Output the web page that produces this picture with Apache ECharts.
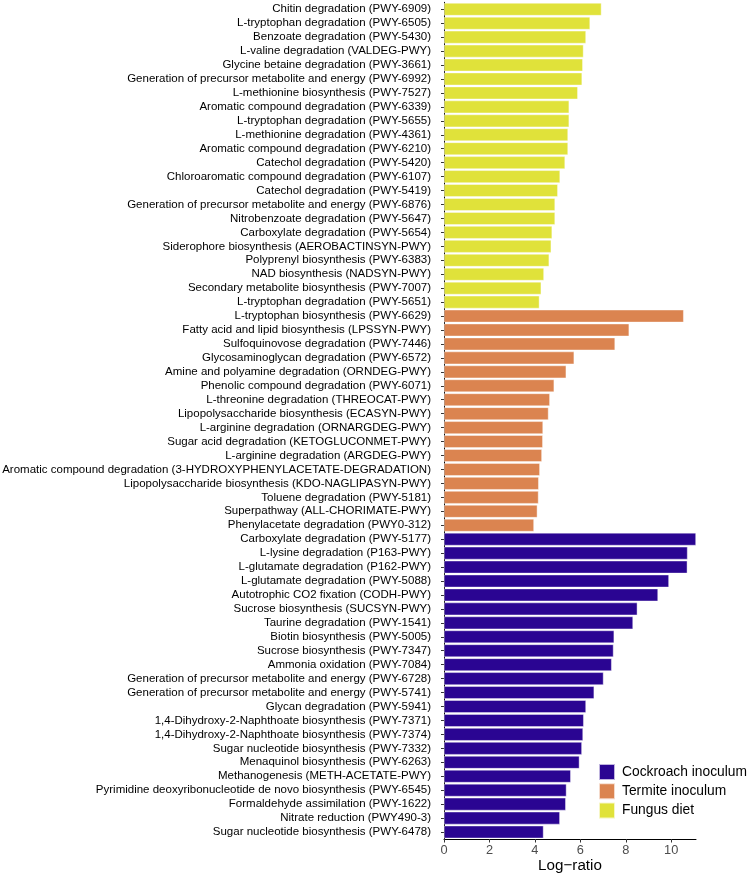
<!DOCTYPE html>
<html>
<head>
<meta charset="utf-8">
<script src="https://cdn.jsdelivr.net/npm/echarts@6/dist/echarts.min.js"></script>
<style>html,body{margin:0;padding:0;background:#fff;}#chart{width:750px;height:876px;}</style>
</head>
<body>
<div id="chart"></div>
<script>
const fungusLabels = [
  "Chitin degradation (PWY-6909)",
  "L-tryptophan degradation (PWY-6505)",
  "Benzoate degradation (PWY-5430)",
  "L-valine degradation (VALDEG-PWY)",
  "Glycine betaine degradation (PWY-3661)",
  "Generation of precursor metabolite and energy (PWY-6992)",
  "L-methionine biosynthesis (PWY-7527)",
  "Aromatic compound degradation (PWY-6339)",
  "L-tryptophan degradation (PWY-5655)",
  "L-methionine degradation (PWY-4361)",
  "Aromatic compound degradation (PWY-6210)",
  "Catechol degradation (PWY-5420)",
  "Chloroaromatic compound degradation (PWY-6107)",
  "Catechol degradation (PWY-5419)",
  "Generation of precursor metabolite and energy (PWY-6876)",
  "Nitrobenzoate degradation (PWY-5647)",
  "Carboxylate degradation (PWY-5654)",
  "Siderophore biosynthesis (AEROBACTINSYN-PWY)",
  "Polyprenyl biosynthesis (PWY-6383)",
  "NAD biosynthesis (NADSYN-PWY)",
  "Secondary metabolite biosynthesis (PWY-7007)",
  "L-tryptophan degradation (PWY-5651)"
];
const fungusValues = [6.93, 6.43, 6.25, 6.14, 6.11, 6.08, 5.89, 5.51, 5.51, 5.46, 5.46, 5.33,
  5.11, 5.01, 4.89, 4.89, 4.76, 4.72, 4.63, 4.40, 4.28, 4.20];

const termiteLabels = [
  "L-tryptophan biosynthesis (PWY-6629)",
  "Fatty acid and lipid biosynthesis (LPSSYN-PWY)",
  "Sulfoquinovose degradation (PWY-7446)",
  "Glycosaminoglycan degradation (PWY-6572)",
  "Amine and polyamine degradation (ORNDEG-PWY)",
  "Phenolic compound degradation (PWY-6071)",
  "L-threonine degradation (THREOCAT-PWY)",
  "Lipopolysaccharide biosynthesis (ECASYN-PWY)",
  "L-arginine degradation (ORNARGDEG-PWY)",
  "Sugar acid degradation (KETOGLUCONMET-PWY)",
  "L-arginine degradation (ARGDEG-PWY)",
  "Aromatic compound degradation (3-HYDROXYPHENYLACETATE-DEGRADATION)",
  "Lipopolysaccharide biosynthesis (KDO-NAGLIPASYN-PWY)",
  "Toluene degradation (PWY-5181)",
  "Superpathway (ALL-CHORIMATE-PWY)",
  "Phenylacetate degradation (PWY0-312)"
];
const termiteValues = [10.55, 8.15, 7.53, 5.73, 5.38, 4.85, 4.66, 4.60, 4.36, 4.35, 4.31,
  4.22, 4.17, 4.16, 4.11, 3.96];

const cockroachLabels = [
  "Carboxylate degradation (PWY-5177)",
  "L-lysine degradation (P163-PWY)",
  "L-glutamate degradation (P162-PWY)",
  "L-glutamate degradation (PWY-5088)",
  "Autotrophic CO2 fixation (CODH-PWY)",
  "Sucrose biosynthesis (SUCSYN-PWY)",
  "Taurine degradation (PWY-1541)",
  "Biotin biosynthesis (PWY-5005)",
  "Sucrose biosynthesis (PWY-7347)",
  "Ammonia oxidation (PWY-7084)",
  "Generation of precursor metabolite and energy (PWY-6728)",
  "Generation of precursor metabolite and energy (PWY-5741)",
  "Glycan degradation (PWY-5941)",
  "1,4-Dihydroxy-2-Naphthoate biosynthesis (PWY-7371)",
  "1,4-Dihydroxy-2-Naphthoate biosynthesis (PWY-7374)",
  "Sugar nucleotide biosynthesis (PWY-7332)",
  "Menaquinol biosynthesis (PWY-6263)",
  "Methanogenesis (METH-ACETATE-PWY)",
  "Pyrimidine deoxyribonucleotide de novo biosynthesis (PWY-6545)",
  "Formaldehyde assimilation (PWY-1622)",
  "Nitrate reduction (PWY490-3)",
  "Sugar nucleotide biosynthesis (PWY-6478)"
];
const cockroachValues = [11.09, 10.72, 10.71, 9.90, 9.42, 8.51, 8.32, 7.49, 7.46, 7.38, 7.02,
  6.61, 6.25, 6.15, 6.12, 6.07, 5.96, 5.58, 5.39, 5.36, 5.10, 4.38];

const xTicks = [0, 2, 4, 6, 8, 10];
const seriesNames = ["Cockroach inoculum", "Termite inoculum", "Fungus diet"];
const seriesColors = ["#2a0592", "#db8450", "#e0e23a"];

const categories = fungusLabels.concat(termiteLabels, cockroachLabels);
const nF = fungusLabels.length, nT = termiteLabels.length, nC = cockroachLabels.length;
const pad = (n) => new Array(n).fill('-');
const fungusData = fungusValues.concat(pad(nT + nC));
const termiteData = pad(nF).concat(termiteValues, pad(nC));
const cockroachData = pad(nF + nT).concat(cockroachValues);
const xMax = Math.max(...fungusValues, ...termiteValues, ...cockroachValues);

const chart = echarts.init(document.getElementById('chart'), null, {renderer: 'canvas'});
const font = 'Liberation Sans, Arial, Helvetica, sans-serif';
function mkSeries(name, data, color) {
  return {
    name: name, type: 'bar', stack: 'all', data: data,
    barCategoryGap: '9%',
    itemStyle: {color: color, borderColor: 'rgba(255,255,255,0.7)', borderWidth: 0.6},
    emphasis: {disabled: true}
  };
}
chart.setOption({
  animation: false,
  backgroundColor: '#ffffff',
  textStyle: {fontFamily: font},
  grid: {left: 444, right: 54, top: 2.3, bottom: 37, containLabel: false, outerBoundsMode: 'none'},
  legend: {
    orient: 'vertical', left: 598, top: 763, padding: 0,
    itemWidth: 16, itemHeight: 16, itemGap: 1.3, icon: 'rect',
    data: seriesNames,
    textStyle: {fontFamily: font, fontSize: 13.8, color: '#000', lineHeight: 16, padding: [0, 0, 0, 2]},
    selectedMode: false
  },
  xAxis: {
    type: 'value', min: 0, max: xMax,
    name: 'Log\u2212ratio', nameLocation: 'middle', nameGap: 18, nameMoveOverlap: false,
    nameTextStyle: {fontFamily: font, fontSize: 15.2, color: '#000', lineHeight: 17, verticalAlign: 'top'},
    splitLine: {show: false},
    axisLine: {show: true, lineStyle: {color: '#000', width: 1}},
    axisTick: {show: true, length: 3.5, lineStyle: {color: '#333'}, customValues: xTicks},
    axisLabel: {fontFamily: font, fontSize: 12.8, color: '#4d4d4d', margin: 4.5, customValues: xTicks}
  },
  yAxis: {
    type: 'category', inverse: true, data: categories,
    axisLine: {show: true, lineStyle: {color: '#000', width: 1}},
    axisTick: {show: true, length: 3, alignWithLabel: true, lineStyle: {color: '#333'}},
    axisLabel: {fontFamily: font, fontSize: 11.5, color: '#000', margin: 13, interval: 0}
  },
  series: [
    mkSeries(seriesNames[2], fungusData, seriesColors[2]),
    mkSeries(seriesNames[1], termiteData, seriesColors[1]),
    mkSeries(seriesNames[0], cockroachData, seriesColors[0])
  ],
  color: [seriesColors[2], seriesColors[1], seriesColors[0]]
});
</script>
</body>
</html>
